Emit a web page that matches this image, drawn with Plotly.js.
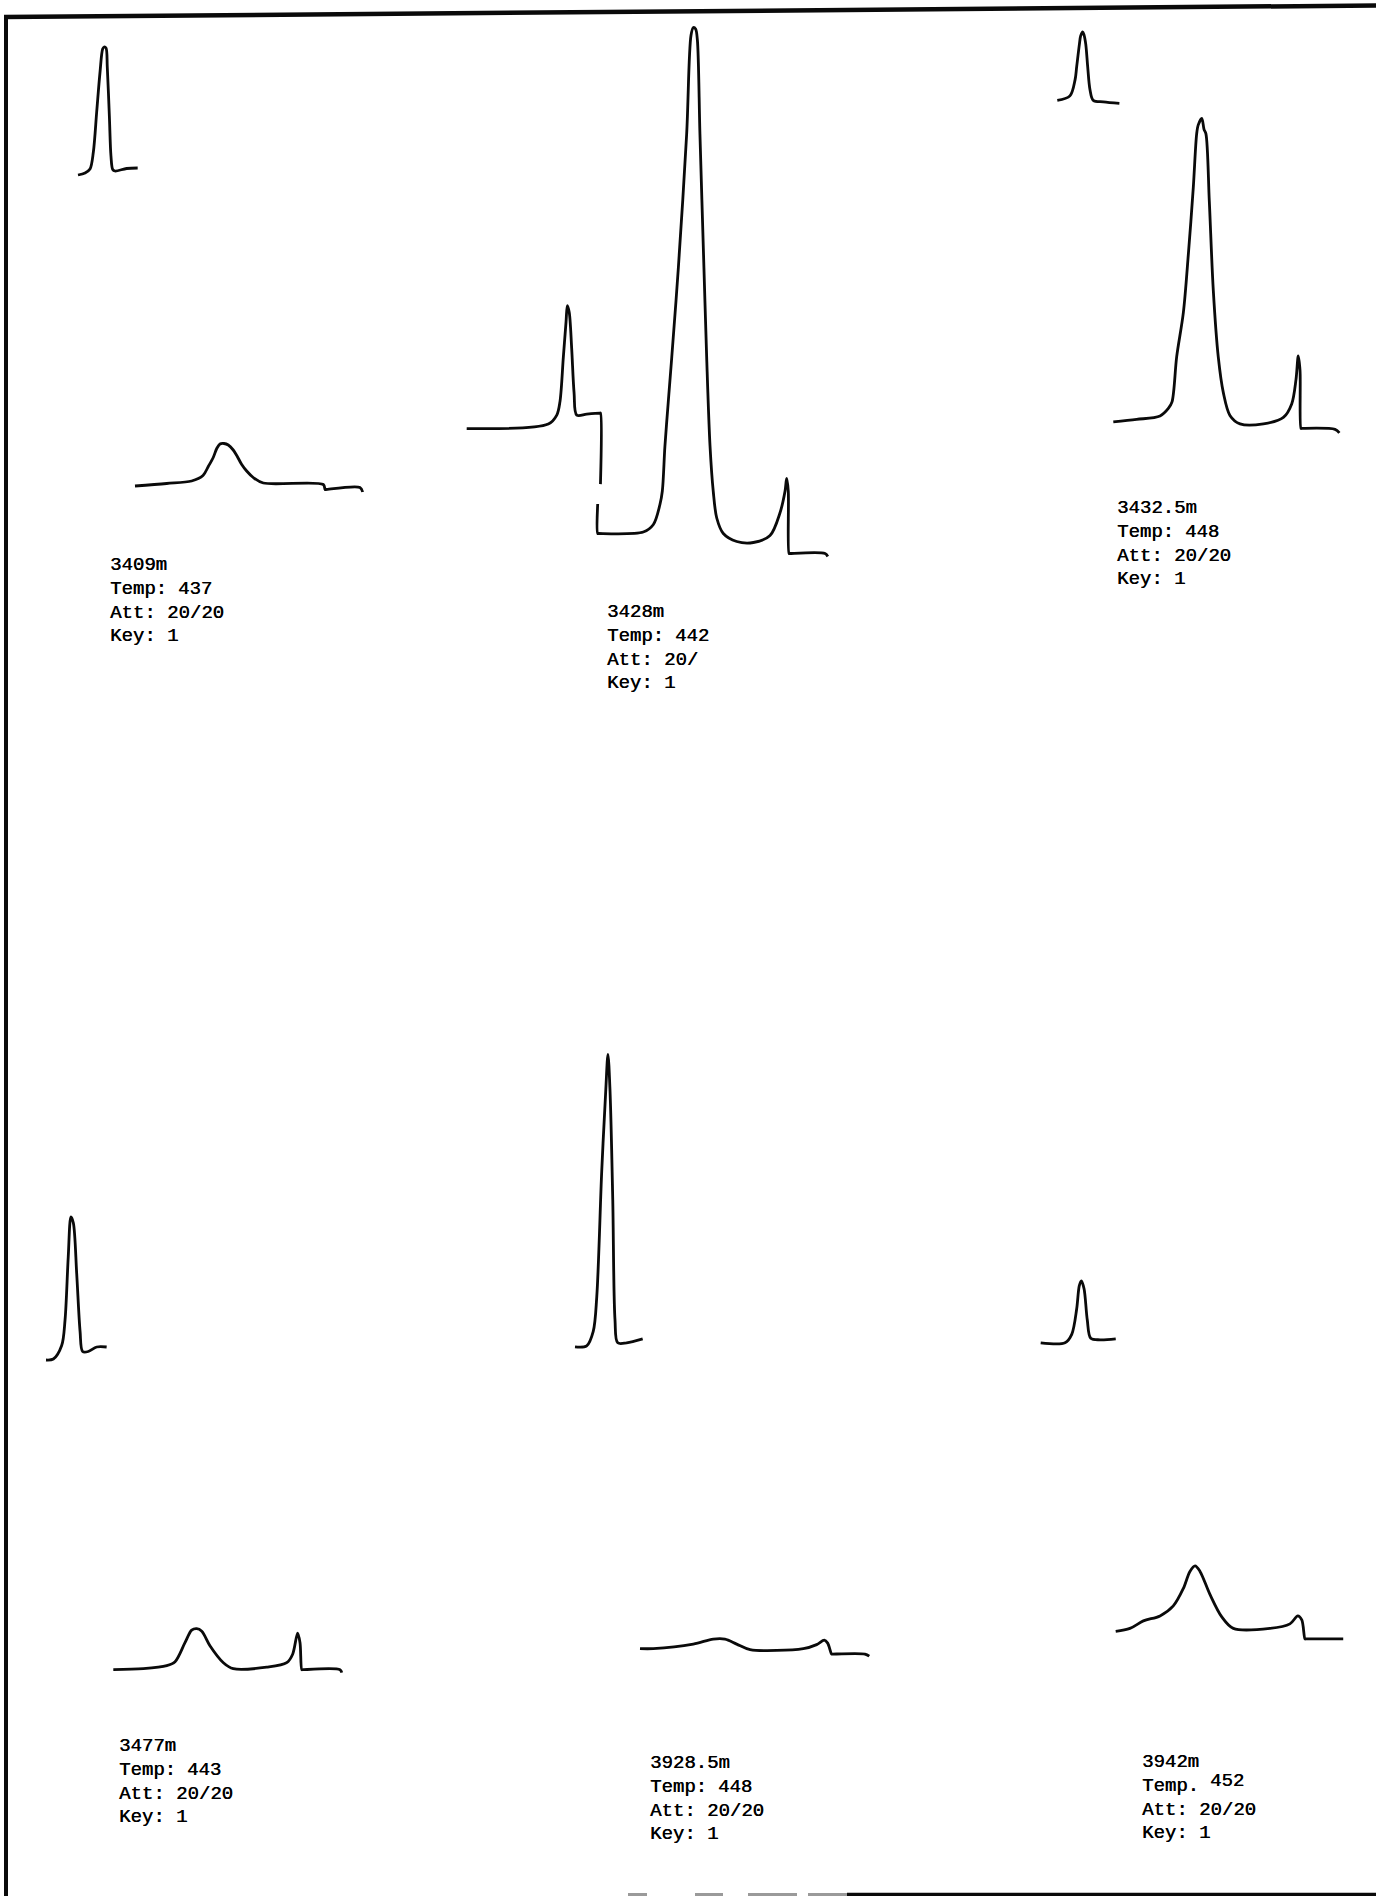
<!DOCTYPE html>
<html>
<head>
<meta charset="utf-8">
<script src="https://cdn.plot.ly/plotly-3.0.1.min.js"></script>
<style>
  html, body { margin: 0; padding: 0; background: #ffffff; }
  #chart { width: 1376px; height: 1896px; }
</style>
</head>
<body>
<div id="chart"></div>
<script>
// ---------------------------------------------------------------
// Rock-Eval pyrograms: FID signal (mV) against run time (min).
// Each sample has an S1 trace (free hydrocarbons, isothermal step)
// and an S2/S3 trace (temperature-programmed pyrolysis).
// ---------------------------------------------------------------

// Sample headers
const depths   = ['3409m', '3428m', '3432.5m', '3477m', '3928.5m', '3942m'];
const tmaxC    = [437, 442, 448, 443, 448, 452];
const tempTags = ['Temp:', 'Temp:', 'Temp:', 'Temp:', 'Temp:', 'Temp.'];
const attens   = ['20/20', '20/', '20/20', '20/20', '20/20', '20/20'];
const keys     = [1, 1, 1, 1, 1, 1];

// 3409m
const s1Time_3409   = [0, 0.44, 0.75, 0.96, 1.17, 1.38, 1.54, 1.63, 1.75, 1.83, 1.96, 2.06, 2.17, 2.31, 3.04, 3.73];
const s1Signal_3409 = [0, 0.4, 1.2, 4.6, 12.7, 20.7, 25.2, 25.6, 25.4, 21.6, 11.8, 3.8, 1.1, 0.8, 1.3, 1.4];
const s2Time_3409   = [0, 1.98, 3.54, 4.25, 4.58, 4.89, 5.11, 5.31, 5.56, 5.83, 6.14, 6.36, 6.67, 6.98, 7.39, 8.02, 11.77, 11.88, 11.93, 14.06, 14.23];
const s2Signal_3409 = [0, 0.5, 1.0, 2.1, 3.9, 5.7, 7.5, 8.4, 8.5, 8.2, 7.2, 6.1, 4.3, 3.0, 1.7, 0.6, 0.3, -0.7, -0.7, -0.3, -1.2];

// 3428m (S1 ends with the pen reset drop)
const s1Time_3428   = [0, 5.1, 5.63, 5.83, 6.04, 6.21, 6.29, 6.41, 6.56, 6.71, 6.88, 7.5, 8.32, 8.36, 8.36];
const s1Signal_3428 = [0, 0.9, 2.7, 5.4, 14.3, 21.4, 24.6, 23.2, 16.1, 7.2, 2.7, 2.9, 3.1, 3.1, -11.1];
const s2Time_3428   = [0, 0, 0.06, 2.85, 3.48, 3.89, 4.04, 4.2, 4.41, 4.63, 5.04, 5.56, 5.83, 5.98, 6.12, 6.23, 6.39, 6.64, 6.81, 7.02, 7.22, 7.44, 7.85, 8.69, 9.73, 10.77, 11.39, 11.71, 11.81, 11.91, 11.96, 12.01, 14.21, 14.38];
const s2Signal_3428 = [5.9, 0, 0, 0.3, 1.8, 5.8, 8.5, 17.4, 26.3, 35.3, 53.1, 79.9, 99.6, 101.2, 100.9, 98.7, 79.9, 53.1, 35.3, 17.5, 8.5, 3.1, 0, -1.6, -1.8, -0.4, 4.1, 8.5, 11.0, 8.5, -4.0, -4.0, -4.0, -4.6];

// 3432.5m
const s1Time_3432   = [0, 0.79, 1.11, 1.21, 1.38, 1.46, 1.59, 1.67, 1.78, 1.9, 2.04, 2.25, 2.88, 3.88];
const s1Signal_3432 = [0, 0.9, 4.1, 6.7, 11.2, 12.9, 13.7, 13.1, 11.2, 6.7, 2.2, 0, -0.3, -0.6];
const s2Time_3432   = [0, 1.46, 2.92, 3.44, 3.67, 3.96, 4.38, 4.69, 5.0, 5.21, 5.31, 5.53, 5.67, 5.79, 6.0, 6.25, 6.56, 6.88, 7.29, 7.92, 9.38, 10.63, 11.15, 11.42, 11.56, 11.67, 11.73, 11.78, 13.86, 14.13];
const s2Signal_3432 = [0, 0.5, 1.2, 2.7, 4.0, 13.0, 21.9, 33.5, 46.9, 57.6, 59.4, 60.7, 58.5, 57.6, 44.2, 26.3, 13.0, 5.8, 1.3, -0.4, -0.4, 0.9, 3.6, 8.5, 13.2, 10.3, -1.3, -1.3, -1.5, -2.2];

// 3477m
const s1Time_3477   = [0, 0.46, 0.98, 1.19, 1.39, 1.56, 1.71, 1.92, 2.13, 2.29, 2.64, 3.17, 3.79];
const s1Signal_3477 = [0, 0.2, 2.9, 8.0, 20.6, 28.6, 27.4, 17.2, 5.7, 1.7, 1.7, 2.6, 2.6];
const s2Time_3477   = [0, 1.88, 3.34, 3.86, 4.48, 4.9, 5.21, 5.53, 6.04, 6.88, 7.5, 9.59, 10.84, 11.21, 11.52, 11.67, 11.78, 11.83, 14.17, 14.28];
const s2Signal_3477 = [0, 0.2, 0.8, 1.6, 5.4, 7.9, 8.2, 7.7, 4.8, 1.4, 0.2, 0.5, 1.4, 3.1, 7.3, 5.4, 0, 0, 0, -0.6];

// 3928.5m
const s1Time_3928   = [0, 0.73, 1.14, 1.36, 1.67, 1.92, 2.06, 2.19, 2.36, 2.5, 2.67, 3.23, 4.23];
const s1Signal_3928 = [0, 0.2, 3.1, 10.0, 35.1, 51.1, 58.5, 51.1, 29.4, 5.4, 0.8, 0.8, 1.6];
const s2Time_3928   = [0, 0.83, 3.33, 4.58, 5.31, 6.04, 6.88, 10.21, 11.04, 11.52, 11.73, 11.98, 12.03, 14.06, 14.33];
const s2Signal_3928 = [0, 0, 0.9, 1.9, 1.9, 0.9, -0.2, 0, 0.8, 1.7, 1.1, -1.1, -1.1, -1.1, -1.5];

// 3942m
const s1Time_3942   = [0, 1.52, 1.94, 2.25, 2.41, 2.54, 2.71, 2.91, 3.13, 3.71, 4.69];
const s1Signal_3942 = [0, 0, 1.7, 6.8, 11.4, 12.4, 10.8, 4.6, 0.9, 0.6, 0.8];
const s2Time_3942   = [0, 0.89, 1.73, 2.77, 3.6, 4.23, 4.64, 4.96, 5.27, 5.89, 6.63, 7.35, 9.64, 10.89, 11.38, 11.63, 11.83, 11.88, 14.22];
const s2Signal_3942 = [0, 0.6, 2.1, 3.1, 5.1, 8.6, 12.0, 13.1, 12.0, 7.4, 2.9, 0.6, 0.6, 1.5, 3.1, 2.3, -1.5, -1.5, -1.5];

// ---------------------------------------------------------------
// Page layout: chart-paper scale and where each trace's origin
// (t = 0, baseline) sits on the sheet, in pixels.
// ---------------------------------------------------------------
const PAGE_W = 1376, PAGE_H = 1896;
const PX_PER_MIN = 16;   // horizontal chart speed
const PX_PER_MV  = 5;    // vertical pen deflection

const series = [
  { t: s1Time_3409, v: s1Signal_3409, origin: [78, 175] },
  { t: s2Time_3409, v: s2Signal_3409, origin: [135, 486] },
  { t: s1Time_3428, v: s1Signal_3428, origin: [466.7, 428.6] },
  { t: s2Time_3428, v: s2Signal_3428, origin: [597.7, 533.5] },
  { t: s1Time_3432, v: s1Signal_3432, origin: [1057.3, 100.4] },
  { t: s2Time_3432, v: s2Signal_3432, origin: [1113.3, 421.9] },
  { t: s1Time_3477, v: s1Signal_3477, origin: [46, 1360] },
  { t: s2Time_3477, v: s2Signal_3477, origin: [113.3, 1669.7] },
  { t: s1Time_3928, v: s1Signal_3928, origin: [575, 1346.8] },
  { t: s2Time_3928, v: s2Signal_3928, origin: [640, 1648.6] },
  { t: s1Time_3942, v: s1Signal_3942, origin: [1040.7, 1342.8] },
  { t: s2Time_3942, v: s2Signal_3942, origin: [1115.7, 1631.4] }
];

// Header block anchors: left edge and centre of the first line
const headerPos = [
  [108, 565], [605, 612], [1115, 508],
  [117, 1746], [648, 1763], [1140, 1762]
];
const tempRaise = [0, 0, 0, 0, 0, 5];  // Tmax figure printed slightly high
const LINE_STEP = 23.8;
const FONT = {
  family: 'Liberation Mono, DejaVu Sans Mono, monospace',
  size: 19, color: '#000000',
  shadow: '0.45px 0 0 #000000'   // typewriter-weight strokes
};
const CHAR_W = 0.6 * FONT.size;
const INK = '#0a0a0a';

const traces = [];
const layout = {
  width: PAGE_W, height: PAGE_H,
  margin: { l: 0, r: 0, t: 0, b: 0, pad: 0 },
  paper_bgcolor: '#ffffff', plot_bgcolor: 'rgba(0,0,0,0)',
  showlegend: false,
  annotations: [],
  shapes: []
};

series.forEach((s, i) => {
  const sfx = i === 0 ? '' : String(i + 1);
  const [ox, oy] = s.origin;
  traces.push({
    type: 'scatter', mode: 'lines',
    x: s.t, y: s.v,
    xaxis: 'x' + sfx, yaxis: 'y' + sfx,
    line: { color: INK, width: 2.8, shape: 'spline', smoothing: 0.9 },
    hoverinfo: 'skip'
  });
  const xa = {
    domain: [0, 1], visible: false, fixedrange: true,
    range: [-ox / PX_PER_MIN, (PAGE_W - ox) / PX_PER_MIN],
    anchor: 'y' + sfx
  };
  const ya = {
    domain: [0, 1], visible: false, fixedrange: true,
    range: [-(PAGE_H - oy) / PX_PER_MV, oy / PX_PER_MV],
    anchor: 'x' + sfx
  };
  if (i > 0) { xa.overlaying = 'x'; ya.overlaying = 'y'; }
  layout['xaxis' + sfx] = xa;
  layout['yaxis' + sfx] = ya;
});

// Sample header text
const px = x => x / PAGE_W;
const py = y => 1 - y / PAGE_H;
function addText(text, x, y) {
  layout.annotations.push({
    text: text, xref: 'paper', yref: 'paper',
    x: px(x), y: py(y), xanchor: 'left', yanchor: 'middle',
    showarrow: false, font: FONT
  });
}
depths.forEach((d, i) => {
  const [hx, hy] = headerPos[i];
  addText(d, hx, hy);
  addText(tempTags[i], hx, hy + LINE_STEP);
  addText(String(tmaxC[i]), hx + CHAR_W * (tempTags[i].length + 1), hy + LINE_STEP - tempRaise[i]);
  addText('Att: ' + attens[i], hx, hy + 2 * LINE_STEP);
  addText('Key: ' + keys[i], hx, hy + 3 * LINE_STEP);
});

// Sheet frame (top and left rules, partly printed bottom rule)
function rule(x0, y0, x1, y1, w, c) {
  layout.shapes.push({
    type: 'line', xref: 'paper', yref: 'paper',
    x0: px(x0), y0: py(y0), x1: px(x1), y1: py(y1),
    line: { color: c, width: w }
  });
}
rule(4, 17, 1376, 5.5, 4.5, INK);
rule(6, 15, 6, 1896, 4, INK);
[[628, 647], [695, 723], [748, 797], [808, 847]].forEach(([a, b]) => rule(a, 1894.5, b, 1894.5, 3, '#9a9a9a'));
rule(847, 1894.5, 1376, 1894.5, 3.5, INK);

Plotly.newPlot('chart', traces, layout, { staticPlot: true, displayModeBar: false });
</script>
</body>
</html>
